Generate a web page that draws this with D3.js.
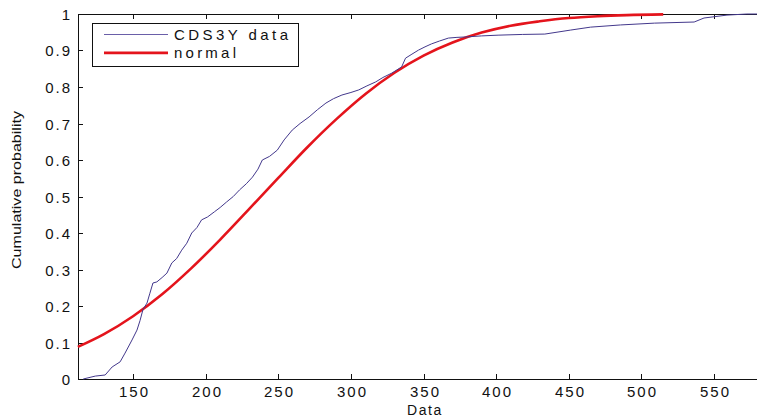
<!DOCTYPE html>
<html>
<head>
<meta charset="utf-8">
<script src="https://cdn.jsdelivr.net/npm/d3@7"></script>
<style>
  html, body { margin: 0; padding: 0; background: #fff; }
  svg { display: block; font-family: "Liberation Sans", Arial, sans-serif; }
</style>
</head>
<body>
<div id="chart"></div>
<script>
const dataX = [115.7, 124, 130.8, 135.6, 141.1, 144.5, 149.3, 152.7, 154.8, 156.8, 159.6, 161.6, 163.7, 166.4,
  170, 173.3, 176.7, 180, 183.5, 187, 190.4, 194, 197.2, 201.3, 206, 210, 214.4, 219, 223.3, 228, 232.2, 236,
  239.0, 244, 249.3, 254, 259.6, 265, 271.2, 277, 282.8, 288, 293.8, 300, 305.4, 311, 317.1, 322, 328.1, 334.9,
  337.6, 342, 346.5, 351, 355.4, 361, 367.1, 373, 378.7, 390, 401.3, 418, 433.5, 451.3, 465.0, 485.6, 508.9,
  536.3, 543.1, 558.9, 572.6, 580];
const dataY = [0, 0.008, 0.011, 0.033, 0.047, 0.071, 0.107, 0.134, 0.16, 0.19, 0.208, 0.235, 0.263, 0.266,
  0.278, 0.29, 0.318, 0.33, 0.353, 0.372, 0.4, 0.415, 0.436, 0.444, 0.458, 0.47, 0.485, 0.5, 0.518, 0.535, 0.553,
  0.575, 0.6, 0.61, 0.627, 0.655, 0.682, 0.7, 0.718, 0.738, 0.756, 0.768, 0.778, 0.785, 0.792, 0.803, 0.814,
  0.826, 0.838, 0.855, 0.879, 0.89, 0.901, 0.91, 0.918, 0.926, 0.934, 0.936, 0.937, 0.94, 0.942, 0.944, 0.945,
  0.956, 0.964, 0.97, 0.975, 0.978, 0.989, 0.997, 1.0, 1.0];

// fitted normal cdf
const normX = [112, 130, 150, 170, 190, 210, 230, 250, 270, 290, 310, 330, 350, 370, 390, 410, 430, 450, 470, 490, 515];
const normY = [0.088, 0.123, 0.172, 0.232, 0.303, 0.382, 0.466, 0.551, 0.635, 0.712, 0.781, 0.839, 0.886, 0.922,
  0.949, 0.968, 0.98, 0.989, 0.994, 0.997, 0.999];

const xTicks = [150, 200, 250, 300, 350, 400, 450, 500, 550];
const yTicks = [0, 0.1, 0.2, 0.3, 0.4, 0.5, 0.6, 0.7, 0.8, 0.9, 1];
const legendLabels = ["CDS3Y data", "normal"];

const W = 757, H = 420;
const plotLeft = 78, plotTop = 14, plotBottom = 379;
const pxPerUnit = 1.4525;
const xMin = 112.1, xMax = 600;

const x = d3.scaleLinear().domain([xMin, xMax]).range([plotLeft, plotLeft + (xMax - xMin) * pxPerUnit]);
const y = d3.scaleLinear().domain([0, 1]).range([plotBottom, plotTop]);

const svg = d3.select("#chart").append("svg").attr("width", W).attr("height", H);

const ink = "#111";
const plotRight = x.range()[1];

// box lines (left, bottom, top)
svg.append("line").attr("x1", plotLeft).attr("x2", plotRight).attr("y1", plotBottom + 0.5).attr("y2", plotBottom + 0.5).attr("stroke", ink);
svg.append("line").attr("x1", plotLeft).attr("x2", plotRight).attr("y1", plotTop + 0.5).attr("y2", plotTop + 0.5).attr("stroke", ink);
svg.append("line").attr("x1", plotLeft + 0.5).attr("x2", plotLeft + 0.5).attr("y1", plotTop).attr("y2", plotBottom + 1).attr("stroke", ink);

// inward ticks
const gx = svg.append("g");
xTicks.forEach((t) => {
  const px = Math.round(x(t)) + 0.5;
  gx.append("line").attr("x1", px).attr("x2", px).attr("y1", plotBottom).attr("y2", plotBottom - 5).attr("stroke", ink);
  gx.append("line").attr("x1", px).attr("x2", px).attr("y1", plotTop).attr("y2", plotTop + 5).attr("stroke", ink);
  gx.append("text").attr("x", px + 1).attr("y", 397).attr("text-anchor", "middle")
    .attr("font-size", 15).attr("letter-spacing", 2).attr("fill", ink).text(t);
});
const gy = svg.append("g");
yTicks.forEach((t) => {
  const py = Math.round(y(t)) + 0.5;
  gy.append("line").attr("x1", plotLeft).attr("x2", plotLeft + 5).attr("y1", py).attr("y2", py).attr("stroke", ink);
  gy.append("text").attr("x", 72).attr("y", py + 5.3).attr("text-anchor", "end")
    .attr("font-size", 15).attr("letter-spacing", 2).attr("fill", ink).text(d3.format("~g")(t));
});

// axis labels
svg.append("text").attr("x", 425).attr("y", 415).attr("text-anchor", "middle")
  .attr("font-size", 14).attr("letter-spacing", 1.6).attr("fill", ink).text("Data");
svg.append("text").attr("transform", "translate(21,190) rotate(-90)").attr("text-anchor", "middle")
  .attr("font-size", 13).attr("textLength", 158).attr("lengthAdjust", "spacingAndGlyphs")
  .attr("fill", ink).text("Cumulative probability");

// curves
svg.append("path").datum(d3.zip(normX, normY))
  .attr("fill", "none").attr("stroke", "#e4141c").attr("stroke-width", 2.6)
  .attr("d", d3.line().x((d) => x(d[0])).y((d) => y(d[1])).curve(d3.curveMonotoneX));
svg.append("path").datum(d3.zip(dataX, dataY))
  .attr("fill", "none").attr("stroke", "#43388c").attr("stroke-width", 1)
  .attr("d", d3.line().x((d) => x(d[0])).y((d) => y(d[1])));

// legend
const lg = svg.append("g");
lg.append("rect").attr("x", 92.5).attr("y", 23.5).attr("width", 206).attr("height", 43)
  .attr("fill", "#fff").attr("stroke", ink);
const legendStyles = [{ c: "#6a5fa8", w: 1.2, len: 114 }, { c: "#e4141c", w: 2.6, len: 62 }];
legendLabels.forEach((lab, i) => {
  const ly = 34.5 + i * 18.4;
  lg.append("line").attr("x1", 104).attr("x2", 168).attr("y1", ly).attr("y2", ly)
    .attr("stroke", legendStyles[i].c).attr("stroke-width", legendStyles[i].w);
  lg.append("text").attr("x", 174).attr("y", ly + 5.5).attr("font-size", 15)
    .attr("textLength", legendStyles[i].len).attr("lengthAdjust", "spacing")
    .attr("fill", ink).text(lab);
});
</script>
</body>
</html>
